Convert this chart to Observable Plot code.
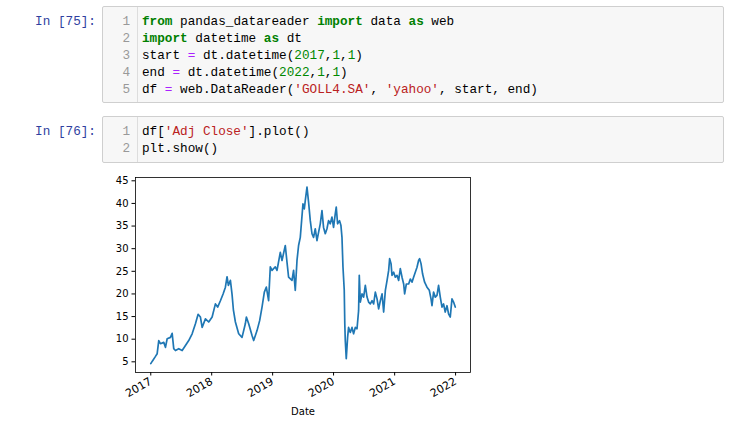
<!DOCTYPE html>
<html>
<head>
<meta charset="utf-8">
<script src="https://cdn.jsdelivr.net/npm/d3@7"></script>
<script src="https://cdn.jsdelivr.net/npm/@observablehq/plot@0.6"></script>
<style>
  html, body { margin: 0; padding: 0; background: #fff; }
  #page { position: relative; width: 733px; height: 425px; overflow: hidden; background: #fff; }
  .prompt { position: absolute; left: 0; width: 96px; text-align: right; font-family: "Liberation Mono", monospace; font-size: 12.7px; line-height: 17px; color: #303F9F; white-space: pre; }
  .cell { position: absolute; left: 102px; width: 622px; background: #f7f7f7; border: 1px solid #cfcfcf; border-radius: 2px; box-sizing: border-box; }
  .gutter { position: absolute; left: 0; top: 0; bottom: 0; width: 34px; border-right: 1px solid #ddd; }
  .ln { position: absolute; left: 0; width: 27px; text-align: right; font-family: "Liberation Mono", monospace; font-size: 12.7px; line-height: 17px; color: #999; }
  .code { position: absolute; left: 39px; font-family: "Liberation Mono", monospace; font-size: 12.7px; line-height: 17px; color: #000; white-space: pre; }
  .kw { color: #008000; font-weight: bold; }
  .op { color: #AA22FF; }
  .num { color: #008800; }
  .str { color: #BA2121; }
  #chart { position: absolute; left: 100px; top: 170px; }
</style>
</head>
<body>
<div id="page">
  <div class="prompt" style="top:13px">In [75]:</div>
  <div class="cell" style="top:6px; height:97px">
    <div class="gutter"></div>
    <div class="ln" style="top:6px">1</div>
    <div class="ln" style="top:23px">2</div>
    <div class="ln" style="top:40px">3</div>
    <div class="ln" style="top:57px">4</div>
    <div class="ln" style="top:74px">5</div>
    <div class="code" style="top:6px"><span class="kw">from</span> pandas_datareader <span class="kw">import</span> data <span class="kw">as</span> web</div>
    <div class="code" style="top:23px"><span class="kw">import</span> datetime <span class="kw">as</span> dt</div>
    <div class="code" style="top:40px">start <span class="op">=</span> dt.datetime(<span class="num">2017</span>,<span class="num">1</span>,<span class="num">1</span>)</div>
    <div class="code" style="top:57px">end <span class="op">=</span> dt.datetime(<span class="num">2022</span>,<span class="num">1</span>,<span class="num">1</span>)</div>
    <div class="code" style="top:74px">df <span class="op">=</span> web.DataReader(<span class="str">'GOLL4.SA'</span>, <span class="str">'yahoo'</span>, start, end)</div>
  </div>
  <div class="prompt" style="top:123px">In [76]:</div>
  <div class="cell" style="top:116px; height:47px">
    <div class="gutter"></div>
    <div class="ln" style="top:6px">1</div>
    <div class="ln" style="top:23px">2</div>
    <div class="code" style="top:6px">df[<span class="str">'Adj Close'</span>].plot()</div>
    <div class="code" style="top:23px">plt.show()</div>
  </div>
  <div id="chart"></div>
</div>
<script>
const years = [
  2017.000, 2017.028, 2017.077, 2017.105, 2017.131, 2017.159, 2017.213, 2017.241, 2017.269, 2017.323,
  2017.351, 2017.377, 2017.405, 2017.459, 2017.515, 2017.569, 2017.623, 2017.679, 2017.733, 2017.777,
  2017.815, 2017.843, 2017.897, 2017.951, 2018.007, 2018.061, 2018.098, 2018.143, 2018.187, 2018.225,
  2018.252, 2018.274, 2018.307, 2018.334, 2018.356, 2018.389, 2018.443, 2018.498, 2018.552, 2018.569,
  2018.607, 2018.662, 2018.689, 2018.744, 2018.787, 2018.826, 2018.864, 2018.897, 2018.934, 2018.962,
  2018.990, 2019.044, 2019.072, 2019.126, 2019.154, 2019.208, 2019.236, 2019.262, 2019.318, 2019.344,
  2019.372, 2019.400, 2019.426, 2019.454, 2019.498, 2019.520, 2019.536, 2019.564, 2019.590, 2019.618,
  2019.646, 2019.672, 2019.700, 2019.728, 2019.754, 2019.782, 2019.810, 2019.836, 2019.864, 2019.892,
  2019.918, 2019.946, 2019.974, 2020.000, 2020.028, 2020.044, 2020.066, 2020.098, 2020.121, 2020.138,
  2020.154, 2020.175, 2020.184, 2020.192, 2020.208, 2020.230, 2020.246, 2020.274, 2020.302, 2020.328,
  2020.356, 2020.384, 2020.410, 2020.421, 2020.438, 2020.466, 2020.492, 2020.520, 2020.548, 2020.574,
  2020.602, 2020.630, 2020.656, 2020.684, 2020.712, 2020.738, 2020.766, 2020.794, 2020.820, 2020.848,
  2020.876, 2020.902, 2020.918, 2020.941, 2020.957, 2020.984, 2021.011, 2021.039, 2021.066, 2021.093,
  2021.121, 2021.148, 2021.164, 2021.192, 2021.230, 2021.257, 2021.285, 2021.311, 2021.339, 2021.367,
  2021.393, 2021.410, 2021.433, 2021.459, 2021.492, 2021.531, 2021.569, 2021.597, 2021.613, 2021.639,
  2021.667, 2021.695, 2021.721, 2021.749, 2021.777, 2021.803, 2021.830, 2021.859, 2021.885, 2021.913,
  2021.941, 2021.967, 2021.995
];
const adjClose = [
  4.6, 5.2, 6.2, 6.8, 9.7, 9.0, 9.3, 8.2, 10.1, 10.4,
  11.3, 7.9, 7.5, 7.9, 7.5, 8.6, 9.7, 11.2, 13.4, 15.5,
  14.9, 12.6, 14.5, 13.8, 14.9, 17.8, 17.1, 18.5, 20.0, 21.5,
  23.8, 21.9, 23.0, 19.9, 16.5, 13.8, 11.2, 10.4, 13.4, 14.9,
  13.4, 10.8, 9.7, 11.9, 14.1, 17.1, 20.4, 21.5, 18.5, 26.0,
  25.2, 26.0, 25.2, 29.2, 27.4, 30.7, 27.0, 23.7, 23.0, 25.2,
  20.8, 27.4, 30.7, 32.5, 39.9, 38.8, 40.6, 43.6, 40.3, 36.2,
  33.3, 32.5, 34.4, 31.8, 33.6, 35.5, 38.4, 34.7, 33.3, 34.4,
  36.2, 35.5, 37.0, 34.7, 37.7, 39.2, 35.5, 36.2, 35.1, 32.5,
  26.0, 20.8, 13.4, 9.7, 5.7, 10.4, 12.6, 11.5, 12.6, 11.2,
  12.6, 12.3, 16.3, 24.1, 18.2, 20.0, 19.3, 21.9, 19.3, 18.2,
  17.8, 18.5, 17.8, 20.4, 18.9, 16.7, 18.5, 20.0, 16.0, 20.8,
  23.0, 25.2, 27.8, 26.7, 24.1, 24.8, 23.7, 24.1, 23.0, 25.6,
  23.7, 22.2, 20.0, 22.2, 22.2, 23.3, 22.6, 23.7, 24.8, 25.9,
  27.4, 27.8, 26.7, 24.4, 22.6, 21.5, 20.8, 18.9, 17.4, 20.4,
  19.3, 19.7, 21.9, 19.3, 17.1, 17.8, 16.0, 17.4, 15.6, 14.9,
  18.9, 18.2, 17.1
];
const xTickYears = [2017, 2018, 2019, 2020, 2021, 2022];
const yTicks = [5, 10, 15, 20, 25, 30, 35, 40, 45];

function toDate(y) {
  const yr = Math.floor(y);
  const s = Date.UTC(yr, 0, 1), e = Date.UTC(yr + 1, 0, 1);
  return new Date(s + (y - yr) * (e - s));
}
const data = years.map((t, i) => ({date: toDate(t), value: adjClose[i]}));

const chart = Plot.plot({
  width: 380,
  height: 255,
  marginLeft: 35,
  marginRight: 10,
  marginTop: 7,
  marginBottom: 53,
  style: {fontFamily: "'DejaVu Sans', sans-serif", fontSize: "10px", color: "#000", background: "transparent", overflow: "visible"},
  x: {type: "utc", domain: [toDate(2016.75), toDate(2022.245)]},
  y: {domain: [2.64, 45.73]},
  marks: [
    Plot.line(data, {x: "date", y: "value", stroke: "#1f77b4", strokeWidth: 1.7}),
    Plot.frame({stroke: "#000", strokeWidth: 0.8}),
    Plot.axisY({ticks: yTicks, tickSize: 3.5, tickPadding: 3.5, label: null, tickFormat: d => String(d)}),
    Plot.axisX({ticks: xTickYears.map(toDate), tickFormat: d3.utcFormat("%Y"), tickRotate: -30, tickSize: 3.5, tickPadding: 4.5,
      fontSize: 11, label: null}),
    Plot.axisX({ticks: [], tickSize: 0, label: "Date", labelAnchor: "center", labelArrow: "none", labelOffset: 42})
  ]
});
document.getElementById("chart").appendChild(chart);
</script>
</body>
</html>
